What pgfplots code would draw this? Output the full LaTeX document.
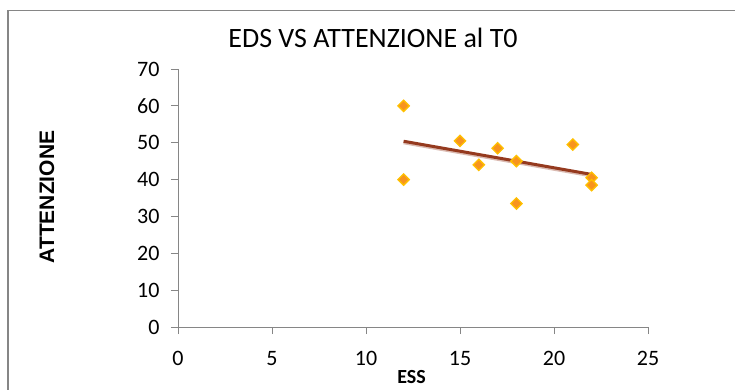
\documentclass[border=0pt]{standalone}
\usepackage{pgfplots}
\pgfplotsset{compat=1.18}
\usepackage{fontspec}
\setmainfont{Carlito}
\newfontfamily\arialfont{Liberation Sans}
\definecolor{axgray}{HTML}{868686}
\definecolor{mfill}{HTML}{F7941E}
\definecolor{medge}{HTML}{FFC000}
\definecolor{trend}{HTML}{953A1F}
\begin{document}
\begin{tikzpicture}
\useasboundingbox (0,0) rectangle (735pt,389pt);
\begin{scope}
\clip (0,0) rectangle (735pt,389pt);
\draw[axgray, line width=1.5pt] (8pt,-20pt) -- (8pt,378.5pt) -- (760pt,378.5pt);
\end{scope}
\begin{axis}[
  at={(178pt,62pt)}, anchor=south west,
  scale only axis, width=470pt, height=258pt,
  xmin=0, xmax=25, ymin=0, ymax=70,
  axis lines=left, axis line style={-, axgray, line width=1pt},
  xtick={0,5,...,25}, ytick={0,10,...,70},
  tick align=outside, major tick length=7pt,
  tick style={axgray, line width=1pt},
  ticklabel style={font=\fontsize{22}{26}\selectfont, text=black},
  /pgf/number format/assume math mode=true,
  xticklabel style={yshift=-14pt},
  yticklabel style={xshift=-8pt},
  title={EDS VS ATTENZIONE al T0},
  title style={at={(axis description cs:0.415,1.097)}, anchor=center, font=\fontsize{28}{32}\selectfont},
  xlabel={ESS},
  xlabel style={at={(axis description cs:0.497,-0.194)}, anchor=center, font=\bfseries\fontsize{20}{24}\selectfont},
  ylabel={ATTENZIONE},
  ylabel style={at={(axis description cs:-0.279,0.504)}, anchor=center, font=\arialfont\bfseries\fontsize{21}{25}\selectfont},
  clip=false,
]
\addplot[only marks, mark=square*, mark size=4pt,
  mark options={rotate=45, fill=mfill, draw=medge, line width=1.3pt}]
  coordinates {(12,60) (12,40) (15,50.5) (16,44) (17,48.5) (18,45) (18,33.5) (21,49.5) (22,40.5) (22,38.5)};
\addplot[trend!35, line width=3pt, yshift=-1.5pt] coordinates {(12,50.4) (22,41.4)};
\addplot[trend, line width=3pt] coordinates {(12,50.4) (22,41.4)};
\end{axis}
\end{tikzpicture}
\end{document}
